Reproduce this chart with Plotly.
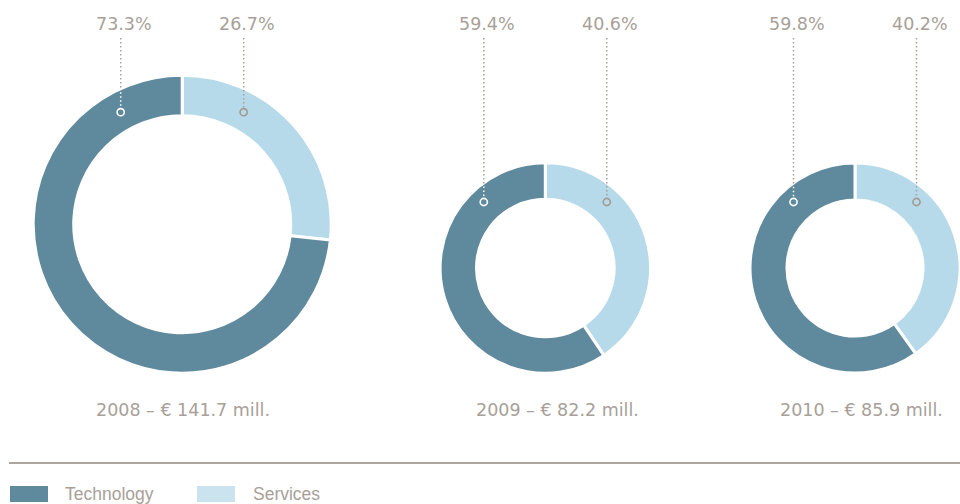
import plotly.graph_objects as go

# ---------------- data ----------------
years = ["2008", "2009", "2010"]
totals = [141.7, 82.2, 85.9]
technology = [73.3, 59.4, 59.8]
services = [26.7, 40.6, 40.2]
segment_names = ["Technology", "Services"]

# ---------------- style / layout constants ----------------
W, H = 960, 504
TECH = "#5F8A9E"
SERV = "#B7DAEB"
SERV_LEG = "#CAE3EF"
TXT = "#A8A098"
RULE = "#ADA59C"
GAP = 3  # white separator width

# pie geometry in pixels: centre x, centre y, outer radius, inner radius (visible)
pie_geom = [(182.2, 224.2, 147.5, 110.0),
            (545.3, 268.0, 103.7, 70.3),
            (855.0, 268.0, 103.5, 69.5)]
title_x = [183, 557, 861]
title_y = 410
anchor_dx = 61.5
anchor_dy = [112, 66, 66]
label_y = 24
leader_top = 38
marker_r = 3.6

NUM_FONT = "DejaVu Sans"
TXT_FONT = "Liberation Sans"
FS = 17.5


def px(x):
    return x / W


def py(y):
    return 1 - y / H


fig = go.Figure()
shapes = []
annotations = []

for i, (cx, cy, R, r) in enumerate(pie_geom):
    Rp = R + GAP / 2
    rp = r - GAP / 2
    x0, x1 = max(0.0, px(cx - Rp)), min(1.0, px(cx + Rp))
    y0, y1 = max(0.0, py(cy + Rp)), min(1.0, py(cy - Rp))
    fig.add_trace(go.Pie(
        labels=[segment_names[1], segment_names[0]],
        values=[services[i], technology[i]],
        sort=False,
        direction="clockwise",
        rotation=0,
        hole=rp / Rp,
        marker=dict(colors=[SERV, TECH], line=dict(color="white", width=GAP)),
        textinfo="none",
        hovertemplate="%{label}: %{value}%<extra>" + years[i] + "</extra>",
        domain=dict(x=[x0, x1], y=[y0, y1]),
        showlegend=False,
    ))

    # title under the donut
    annotations.append(dict(
        x=px(title_x[i]), y=py(title_y), xref="paper", yref="paper",
        text=f"{years[i]} – € {totals[i]} mill.", showarrow=False,
        xanchor="center", yanchor="middle",
        font=dict(family=NUM_FONT, size=FS, color=TXT)))

    # percentage call-outs
    for side, val, is_tech in ((-1, technology[i], True), (1, services[i], False)):
        mx = cx + side * anchor_dx
        my = cy - anchor_dy[i]
        edge_y = cy - (R ** 2 - anchor_dx ** 2) ** 0.5
        if is_tech:
            shapes.append(dict(type="line", xref="paper", yref="paper",
                               x0=px(mx), x1=px(mx), y0=py(leader_top), y1=py(edge_y),
                               line=dict(color=TXT, width=1.5, dash="1.5px,2.5px"), layer="above"))
            shapes.append(dict(type="line", xref="paper", yref="paper",
                               x0=px(mx), x1=px(mx), y0=py(edge_y + 2), y1=py(my - marker_r - 1),
                               line=dict(color="white", width=1.5, dash="1.5px,2.5px"), layer="above"))
            mcol = "white"
        else:
            shapes.append(dict(type="line", xref="paper", yref="paper",
                               x0=px(mx), x1=px(mx), y0=py(leader_top), y1=py(my - marker_r - 1),
                               line=dict(color=TXT, width=1.5, dash="1.5px,2.5px"), layer="above"))
            mcol = "#A39B92"
        shapes.append(dict(type="circle", xref="paper", yref="paper",
                           x0=px(mx - marker_r), x1=px(mx + marker_r),
                           y0=py(my + marker_r), y1=py(my - marker_r),
                           line=dict(color=mcol, width=1.6),
                           fillcolor="rgba(0,0,0,0)", layer="above"))
        annotations.append(dict(
            x=px(mx + 3), y=py(label_y), xref="paper", yref="paper",
            text=f"{val}%", showarrow=False, xanchor="center", yanchor="middle",
            font=dict(family=NUM_FONT, size=FS, color=TXT)))

# horizontal rule
shapes.append(dict(type="line", xref="paper", yref="paper",
                   x0=px(9), x1=px(960), y0=py(463), y1=py(463),
                   line=dict(color=RULE, width=2), layer="above"))

# custom legend
legend_items = [(segment_names[0], TECH, 10, 63), (segment_names[1], SERV_LEG, 197, 251)]
for name, col, sx, tx in legend_items:
    shapes.append(dict(type="rect", xref="paper", yref="paper",
                       x0=px(sx), x1=px(sx + 38), y0=py(502), y1=py(486),
                       fillcolor=col, line=dict(width=0), layer="above"))
    annotations.append(dict(
        x=px(tx), y=py(494), xref="paper", yref="paper", text=name,
        showarrow=False, xanchor="left", yanchor="middle",
        font=dict(family=TXT_FONT, size=FS, color=TXT)))

fig.update_layout(
    width=W, height=H,
    margin=dict(l=0, r=0, t=0, b=0),
    paper_bgcolor="white", plot_bgcolor="white",
    showlegend=False,
    shapes=shapes,
    annotations=annotations,
)

fig.write_html("out.html")
